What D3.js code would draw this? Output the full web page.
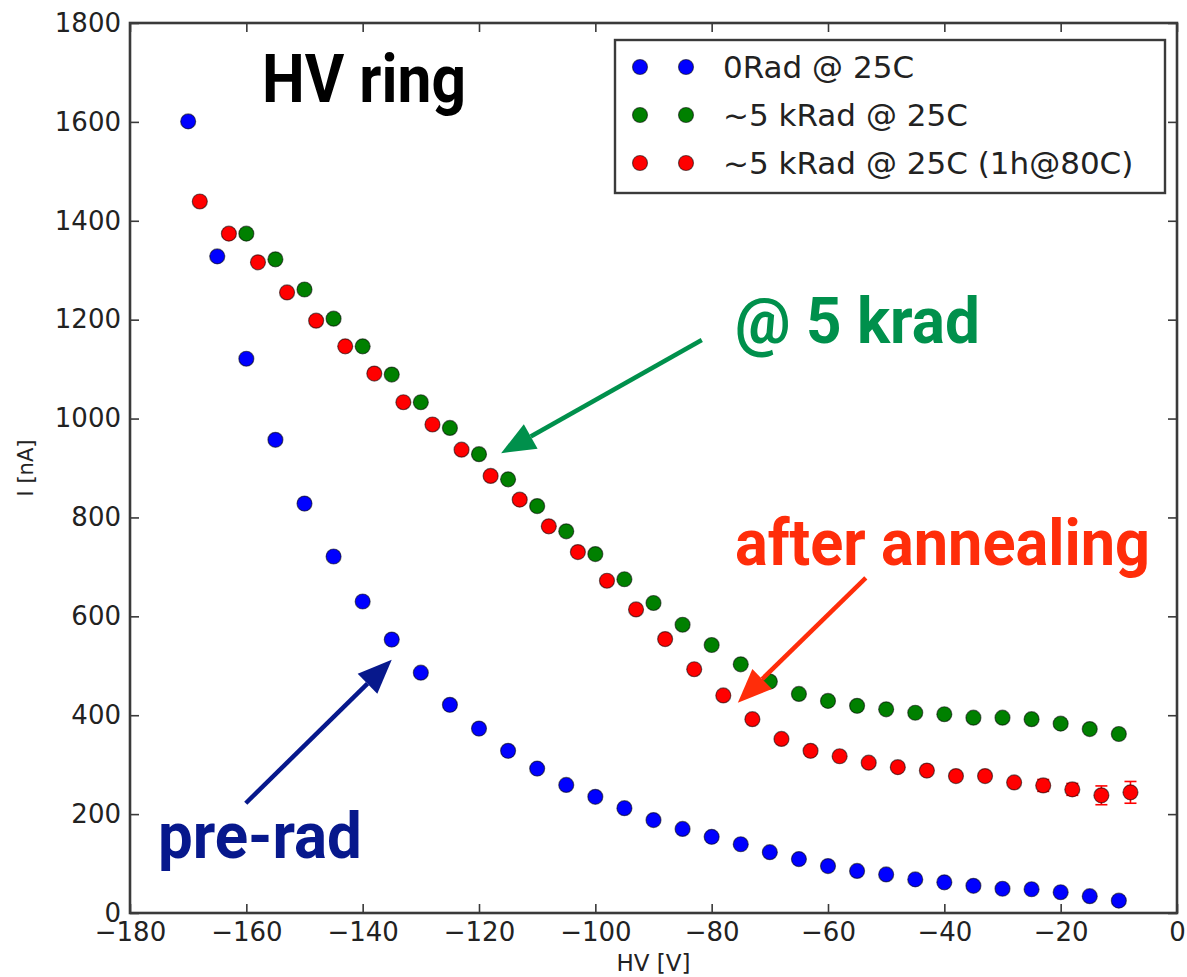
<!DOCTYPE html>
<html>
<head>
<meta charset="utf-8">
<script src="https://cdn.jsdelivr.net/npm/d3@7"></script>
<style>
  html, body { margin: 0; padding: 0; background: #fff; }
  svg { display: block; }
  .tick text { font-family: "DejaVu Sans", sans-serif; fill: #222; }
</style>
</head>
<body>
<svg id="chart" width="1187" height="977"></svg>
<script>
// Leakage current of the HV ring versus bias voltage
const hv0Rad = [-170,-165,-160,-155,-150,-145,-140,-135,-130,-125,-120,-115,-110,-105,-100,-95,-90,-85,-80,-75,-70,-65,-60,-55,-50,-45,-40,-35,-30,-25,-20,-15,-10];
const i0Rad  = [1601,1328,1121,957,828,721,630,553,486,421,373,328,292,259,235,212,188,170,154,139,123,109,95,85,78,68,62,55,49,48,42,34,25];

const hv5k = [-160,-155,-150,-145,-140,-135,-130,-125,-120,-115,-110,-105,-100,-95,-90,-85,-80,-75,-70,-65,-60,-55,-50,-45,-40,-35,-30,-25,-20,-15,-10];
const i5k  = [1374,1322,1261,1202,1146,1089,1033,981,928,877,823,772,726,675,627,583,542,503,468,443,429,419,412,405,402,395,395,392,383,372,362];

const hvAnneal  = [-168,-163,-158,-153,-148,-143,-138,-133,-128,-123,-118,-113,-108,-103,-98,-93,-88,-83,-78,-73,-68,-63,-58,-53,-48,-43,-38,-33,-28,-23,-18,-13,-8];
const iAnneal   = [1439,1374,1316,1255,1198,1146,1091,1033,988,937,884,836,782,730,672,614,554,493,440,392,352,328,317,304,295,288,277,277,264,258,250,238,244];
const errAnneal = [0,0,0,0,0,0,0,0,0,0,0,0,0,0,0,0,0,0,0,0,0,0,0,0,0,0,0,0,0,12,12,19,22];

const seriesNames  = ["0Rad @ 25C", "~5 kRad @ 25C", "~5 kRad @ 25C (1h@80C)"];
const seriesColors = ["#0000ff", "#008000", "#ff0000"];

const xTicks = [-180,-160,-140,-120,-100,-80,-60,-40,-20,0];
const yTicks = [0,200,400,600,800,1000,1200,1400,1600,1800];

const xLabel = "HV [V]";
const yLabel = "I [nA]";

// Annotations: label text, colour, anchor (data units), arrow tail/tip (data units)
const noteTitle = "HV ring";
const noteLabels = ["@ 5 krad", "after annealing", "pre-rad"];
const noteColors = ["#00904c", "#ff2d0a", "#07188c"];
const noteArrowFrom = [[-81.7, 1159], [-53.5, 678], [-160.1, 222]];
const noteArrowTo   = [[-116.2, 930], [-75.5, 425], [-135.0, 512]];

const W = 1187, H = 977;
const margin = {left: 130, right: 10, top: 23, bottom: 64};

const svg = d3.select("#chart");

const x = d3.scaleLinear().domain([-180, 0]).range([margin.left, W - margin.right]);
const y = d3.scaleLinear().domain([0, 1800]).range([H - margin.bottom, margin.top]);

const axisColor = "#3a3a3a";
const fmt = d3.format("d");

// axes with inward ticks on all four sides
const gx = svg.append("g").attr("transform", `translate(0,${y(0)})`)
  .call(d3.axisBottom(x).tickValues(xTicks).tickFormat(fmt).tickSizeInner(-9).tickSizeOuter(0).tickPadding(10));
const gxTop = svg.append("g").attr("transform", `translate(0,${y(1800)})`)
  .call(d3.axisTop(x).tickValues(xTicks).tickFormat("").tickSizeInner(-9).tickSizeOuter(0));
const gy = svg.append("g").attr("transform", `translate(${x(-180)},0)`)
  .call(d3.axisLeft(y).tickValues(yTicks).tickFormat(fmt).tickSizeInner(-9).tickSizeOuter(0).tickPadding(9));
const gyRight = svg.append("g").attr("transform", `translate(${x(0)},0)`)
  .call(d3.axisRight(y).tickValues(yTicks).tickFormat("").tickSizeInner(-9).tickSizeOuter(0));

[gx, gxTop, gy, gyRight].forEach(g => {
  g.select(".domain").remove();
  g.selectAll(".tick line").attr("stroke", axisColor).attr("stroke-width", 1.6);
  g.selectAll(".tick text").attr("font-size", 26).attr("fill", "#222");
});

svg.append("rect")
  .attr("x", x(-180)).attr("y", y(1800))
  .attr("width", x(0) - x(-180)).attr("height", y(0) - y(1800))
  .attr("fill", "none").attr("stroke", axisColor).attr("stroke-width", 2.6);

// axis titles
svg.append("text")
  .attr("x", (x(-180) + x(0)) / 2).attr("y", 971)
  .attr("text-anchor", "middle")
  .attr("font-family", "DejaVu Sans, sans-serif").attr("font-size", 23).attr("fill", "#222")
  .text(xLabel);
svg.append("text")
  .attr("transform", `translate(33,${(y(0) + y(1800)) / 2}) rotate(-90)`)
  .attr("text-anchor", "middle")
  .attr("font-family", "DejaVu Sans, sans-serif").attr("font-size", 21).attr("fill", "#222")
  .text(yLabel);

// data points
const series = [
  {hv: hv0Rad, cur: i0Rad, err: null},
  {hv: hv5k, cur: i5k, err: null},
  {hv: hvAnneal, cur: iAnneal, err: errAnneal}
];
const R = 7.5;

series.forEach((s, k) => {
  const pts = s.hv.map((v, j) => ({v, c: s.cur[j], e: s.err ? s.err[j] : 0}));
  const g = svg.append("g");
  const withErr = pts.filter(p => p.e > 0);
  g.selectAll("line.err").data(withErr).join("line")
    .attr("x1", p => x(p.v)).attr("x2", p => x(p.v))
    .attr("y1", p => y(p.c - p.e)).attr("y2", p => y(p.c + p.e))
    .attr("stroke", seriesColors[k]).attr("stroke-width", 1.6);
  [-1, 1].forEach(sgn => {
    g.selectAll(`line.cap${sgn}`).data(withErr).join("line")
      .attr("x1", p => x(p.v) - 6).attr("x2", p => x(p.v) + 6)
      .attr("y1", p => y(p.c + sgn * p.e)).attr("y2", p => y(p.c + sgn * p.e))
      .attr("stroke", seriesColors[k]).attr("stroke-width", 1.6);
  });
  g.selectAll("circle").data(pts).join("circle")
    .attr("cx", p => x(p.v)).attr("cy", p => y(p.c)).attr("r", R)
    .attr("fill", seriesColors[k])
    .attr("stroke", "#000").attr("stroke-opacity", 0.55).attr("stroke-width", 1.2);
});

// legend
const leg = svg.append("g");
leg.append("rect").attr("x", 615).attr("y", 40).attr("width", 550).attr("height", 153)
  .attr("fill", "#fff").attr("stroke", axisColor).attr("stroke-width", 2.4);
seriesNames.forEach((name, k) => {
  const ry = 67 + k * 48;
  [640, 686].forEach(cx => leg.append("circle").attr("cx", cx).attr("cy", ry).attr("r", 7.5)
    .attr("fill", seriesColors[k]).attr("stroke", "#000").attr("stroke-opacity", 0.55).attr("stroke-width", 1.2));
  leg.append("text").attr("x", 723).attr("y", ry + 11)
    .attr("font-family", "DejaVu Sans, sans-serif").attr("font-size", 31).attr("fill", "#222")
    .text(name);
});

// annotations
const boldFont = "Roboto, 'Liberation Sans', sans-serif";
svg.append("text")
  .attr("x", x(-157.3)).attr("y", y(1640))
  .attr("font-family", boldFont).attr("font-weight", 700).attr("font-size", 66)
  .attr("textLength", 204).attr("lengthAdjust", "spacingAndGlyphs")
  .attr("fill", "#000").text(noteTitle);

const noteAnchor = [[-76.0, 1153], [-76.0, 704], [-175.2, 111]];
const noteWidth = [245, 415, 204];
noteLabels.forEach((lab, k) => {
  svg.append("text")
    .attr("x", x(noteAnchor[k][0])).attr("y", y(noteAnchor[k][1]))
    .attr("font-family", boldFont).attr("font-weight", 700).attr("font-size", 64)
    .attr("textLength", noteWidth[k]).attr("lengthAdjust", "spacingAndGlyphs")
    .attr("fill", noteColors[k]).text(lab);

  const x0 = x(noteArrowFrom[k][0]), y0 = y(noteArrowFrom[k][1]);
  const x1 = x(noteArrowTo[k][0]), y1 = y(noteArrowTo[k][1]);
  const ang = Math.atan2(y1 - y0, x1 - x0);
  const headLen = 34, headHalf = 14;
  const bx = x1 - headLen * Math.cos(ang), by = y1 - headLen * Math.sin(ang);
  svg.append("line").attr("x1", x0).attr("y1", y0).attr("x2", bx).attr("y2", by)
    .attr("stroke", noteColors[k]).attr("stroke-width", 4.5);
  const px = -Math.sin(ang), py = Math.cos(ang);
  svg.append("path")
    .attr("d", `M${x1},${y1}L${bx + px * headHalf},${by + py * headHalf}L${bx - px * headHalf},${by - py * headHalf}Z`)
    .attr("fill", noteColors[k]);
});
</script>
</body>
</html>
